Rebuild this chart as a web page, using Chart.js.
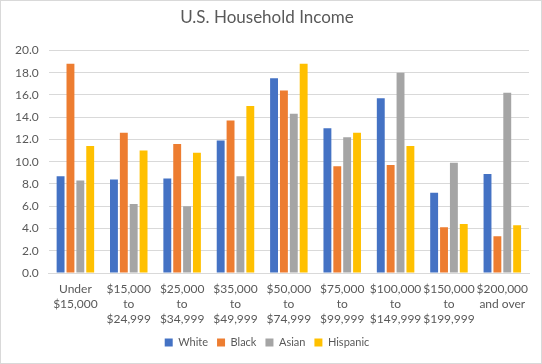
<!DOCTYPE html>
<html>
<head>
<meta charset="utf-8">
<script src="https://cdn.jsdelivr.net/npm/chart.js@4/dist/chart.umd.min.js"></script>
<style>
  html, body { margin: 0; padding: 0; background: #fff; }
  #wrap { width: 540px; height: 362px; border: 1px solid #d9d9d9; position: relative; }
</style>
</head>
<body>
<div id="wrap"><canvas id="incomeChart" width="540" height="362"></canvas></div>
<script>
var categories = [
  ['Under', '$15,000'],
  ['$15,000', 'to', '$24,999'],
  ['$25,000', 'to', '$34,999'],
  ['$35,000', 'to', '$49,999'],
  ['$50,000', 'to', '$74,999'],
  ['$75,000', 'to', '$99,999'],
  ['$100,000', 'to', '$149,999'],
  ['$150,000', 'to', '$199,999'],
  ['$200,000', 'and over']
];
var white    = [8.7, 8.4, 8.5, 11.9, 17.5, 13.0, 15.7, 7.2, 8.9];
var black    = [18.8, 12.6, 11.6, 13.7, 16.4, 9.6, 9.7, 4.1, 3.3];
var asian    = [8.3, 6.2, 6.0, 8.7, 14.3, 12.2, 18.0, 9.9, 16.2];
var hispanic = [11.4, 11.0, 10.8, 15.0, 18.8, 12.6, 11.4, 4.4, 4.3];

var textColor = '#595959';
var fontFamily = 'Lato, "Liberation Sans", sans-serif';

function series(label, data, color) {
  return {
    label: label,
    data: data,
    backgroundColor: color,
    borderWidth: 0,
    categoryPercentage: 0.74,
    barPercentage: 0.8
  };
}

var ctx = document.getElementById('incomeChart');
var myChart = new Chart(ctx, {
  type: 'bar',
  data: {
    labels: categories,
    datasets: [
      series('White', white, '#4472c4'),
      series('Black', black, '#ed7d31'),
      series('Asian', asian, '#a5a5a5'),
      series('Hispanic', hispanic, '#ffc000')
    ]
  },
  options: {
    responsive: false,
    animation: false,
    layout: { padding: { left: 4, right: 12, top: 6, bottom: 5 } },
    plugins: {
      title: {
        display: true,
        text: 'U.S. Household Income',
        color: textColor,
        font: { family: fontFamily, size: 17, weight: 'normal' },
        padding: { top: 0, bottom: 23 }
      },
      legend: {
        position: 'bottom',
        labels: {
          color: textColor,
          font: { family: fontFamily, size: 11 },
          boxWidth: 8,
          boxHeight: 8,
          padding: 9
        }
      },
      tooltip: { enabled: false }
    },
    scales: {
      x: {
        grid: { display: false },
        border: { color: '#d9d9d9' },
        ticks: {
          color: textColor,
          font: { family: fontFamily, size: 12, lineHeight: 1.25 },
          maxRotation: 0,
          autoSkip: false,
          padding: 1
        }
      },
      y: {
        min: 0,
        max: 20,
        border: { display: false },
        grid: { color: '#d9d9d9', drawTicks: false },
        ticks: {
          stepSize: 2,
          color: textColor,
          font: { family: fontFamily, size: 12 },
          padding: 10,
          callback: function (v) { return v.toFixed(1); }
        }
      }
    }
  }
});
</script>
</body>
</html>
